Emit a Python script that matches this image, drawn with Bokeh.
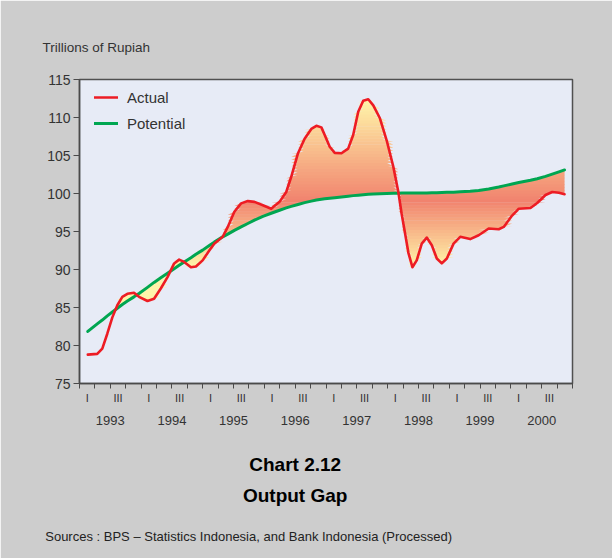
import numpy as np
from bokeh.plotting import figure
from bokeh.models import FixedTicker, LinearAxis, Title
from bokeh.embed import file_html
from bokeh.resources import INLINE

# ---------------- data ----------------
period = [1993.135, 1993.288, 1993.370, 1993.451, 1993.533, 1993.614, 1993.695, 1993.777,
          1993.884, 1993.966, 1994.103, 1994.210, 1994.319, 1994.428, 1994.536, 1994.617,
          1994.699, 1994.808, 1994.889, 1994.998, 1995.106, 1995.187, 1995.324, 1995.406,
          1995.513, 1995.622, 1995.731, 1995.839, 1995.976, 1996.111, 1996.246, 1996.355,
          1996.436, 1996.546, 1996.653, 1996.762, 1996.844, 1996.925, 1996.979, 1997.060,
          1997.142, 1997.251, 1997.360, 1997.441, 1997.523, 1997.604, 1997.686, 1997.767,
          1997.875, 1997.984, 1998.093, 1998.174, 1998.228, 1998.282, 1998.337, 1998.402,
          1998.472, 1998.554, 1998.635, 1998.717, 1998.798, 1998.879, 1998.961, 1999.070,
          1999.178, 1999.340, 1999.477, 1999.640, 1999.803, 1999.884, 2000.020, 2000.129,
          2000.318, 2000.427, 2000.562, 2000.671, 2000.780, 2000.871]

actual = [78.8, 78.9, 79.6, 81.55, 83.7, 85.3, 86.4, 86.8,
          86.95, 86.4, 85.85, 86.15, 87.5, 89.0, 90.8, 91.3,
          91.0, 90.3, 90.4, 91.2, 92.5, 93.4, 94.3, 95.6,
          97.6, 98.7, 99.0, 98.9, 98.45, 98.0, 98.9, 100.2,
          102.2, 105.3, 107.2, 108.5, 108.9, 108.7, 107.7, 106.15,
          105.35, 105.3, 105.9, 107.7, 110.75, 112.2, 112.4, 111.6,
          109.9, 107.0, 103.5, 100.2, 97.3, 94.8, 92.2, 90.3,
          91.2, 93.4, 94.2, 93.2, 91.45, 90.8, 91.45, 93.4,
          94.3, 94.0, 94.5, 95.4, 95.3, 95.6, 97.1, 98.0,
          98.1, 98.75, 99.8, 100.2, 100.1, 99.9]

potential = [81.85, 82.85, 83.35, 83.9, 84.4, 84.9, 85.4, 85.85,
             86.4, 86.85, 87.65, 88.3, 88.9, 89.5, 90.1, 90.55,
             91.0, 91.55, 92.0, 92.55, 93.15, 93.6, 94.3, 94.65,
             95.15, 95.6, 96.05, 96.5, 97.0, 97.4, 97.8, 98.1,
             98.3, 98.55, 98.8, 99.0, 99.15, 99.25, 99.3, 99.38,
             99.45, 99.55, 99.65, 99.72, 99.78, 99.84, 99.9, 99.94,
             99.98, 100.0, 100.02, 100.04, 100.05, 100.05, 100.05, 100.06,
             100.06, 100.07, 100.08, 100.1, 100.1, 100.12, 100.15, 100.18,
             100.22, 100.3, 100.4, 100.6, 100.85, 101.0, 101.25, 101.45,
             101.75, 101.95, 102.25, 102.55, 102.85, 103.1]

years = [1993, 1994, 1995, 1996, 1997, 1998, 1999, 2000]
quarter_names = ["I", "III"]
y_ticks = [75, 80, 85, 90, 95, 100, 105, 110, 115]

FONT = "Liberation Sans"
PAGE_BG = "#cdcdcd"
PLOT_BG = "#e7ebf6"
RED = "#ed1c24"
GREEN = "#00a651"
TXT = "#333333"

p = figure(width=612, height=558, output_backend="svg", toolbar_location=None,
           x_range=(1993, 2001), y_range=(75, 115),
           min_border_left=79, min_border_right=40, min_border_top=79, min_border_bottom=175)
p.background_fill_color = PLOT_BG
p.border_fill_color = PAGE_BG
p.outline_line_color = "#505050"
p.outline_line_width = 1.5
p.grid.visible = False

# ---------- gradient-like fill between actual and potential ----------
t = np.array(period, dtype=float)
a = np.array(actual, dtype=float)
pt = np.array(potential, dtype=float)
d = a - pt
xs, A, P, cross_idx = [t[0]], [a[0]], [pt[0]], []
for i in range(1, len(t)):
    if d[i - 1] * d[i] < 0:
        f = d[i - 1] / (d[i - 1] - d[i])
        xc = t[i - 1] + f * (t[i] - t[i - 1])
        vc = a[i - 1] + f * (a[i] - a[i - 1])
        cross_idx.append(len(xs))
        xs.append(xc); A.append(vc); P.append(vc)
    xs.append(t[i]); A.append(a[i]); P.append(pt[i])
start = cross_idx[0]
xs = np.array(xs[start:]); A = np.array(A[start:]); P = np.array(P[start:])
lo = np.minimum(A, P)
hi = np.maximum(A, P)

salmon = (241, 131, 110)
yellow = (255, 243, 168)


def grad(v):
    if v >= 99:
        f = min((v - 99) / 13.0, 1.0)
    else:
        f = min((99 - v) / 8.5, 1.0)
    return "#%02x%02x%02x" % tuple(int(round(s + (y - s) * f)) for s, y in zip(salmon, yellow))


step = 0.4
edges = np.arange(84.0, 113.2, step)
for b0 in edges:
    b1 = b0 + step
    y1 = np.clip(lo, b0, b1 + 0.06)
    y2 = np.clip(hi, b0, b1 + 0.06)
    if np.all(y2 - y1 <= 1e-9):
        continue
    p.varea(x=xs, y1=y1, y2=y2, fill_color=grad(b0 + step / 2), fill_alpha=1.0)

# ---------------- lines ----------------
p.line(period, potential, line_color=GREEN, line_width=3, legend_label="Potential",
       line_join="round", line_cap="round")
p.line(period, actual, line_color=RED, line_width=2.6, legend_label="Actual",
       line_join="round", line_cap="round")

leg = p.legend[0]
leg.items = list(reversed(leg.items))
leg.location = (15, 250)
leg.background_fill_alpha = 0
leg.border_line_alpha = 0
leg.padding = 0
leg.margin = 0
leg.spacing = 6
leg.glyph_width = 24
leg.glyph_height = 20
leg.label_height = 20
leg.label_standoff = 9
leg.label_text_font = FONT
leg.label_text_font_size = "15px"
leg.label_text_color = TXT

# ---------------- y axis ----------------
p.yaxis.ticker = FixedTicker(ticks=y_ticks)
p.yaxis.major_label_text_font = FONT
p.yaxis.major_label_text_font_size = "14px"
p.yaxis.major_label_text_color = TXT
p.yaxis.major_tick_out = 6
p.yaxis.major_tick_in = 0
p.yaxis.minor_tick_out = 0
p.yaxis.minor_tick_in = 0
p.yaxis.major_label_standoff = 3
p.yaxis.axis_line_color = "#4a4a4a"
p.yaxis.axis_line_width = 1.5
p.yaxis.major_tick_line_color = "#4a4a4a"

# ---------------- x axis: quarter ticks + I / III labels ----------------
quarter_edges = [years[0] + q * 0.25 for q in range(len(years) * 4 + 1)]
q_pos, q_over = [], {}
for yr in years:
    for k, qn in enumerate(quarter_names):
        pos = yr + 0.125 + 0.5 * k
        q_pos.append(pos)
        q_over[pos] = qn
xa = p.xaxis[0]
xa.ticker = FixedTicker(ticks=q_pos, minor_ticks=quarter_edges)
xa.major_label_overrides = q_over
xa.major_label_text_font = FONT
xa.major_label_text_font_size = "11px"
xa.major_label_text_color = TXT
xa.major_label_standoff = 3
xa.major_tick_out = 0
xa.major_tick_in = 0
xa.minor_tick_out = 5
xa.minor_tick_in = 0
xa.axis_line_color = "#4a4a4a"
xa.axis_line_width = 1.5
xa.minor_tick_line_color = "#4a4a4a"
xa.major_tick_line_color = None


def text_row(positions, texts, standoff, size, style="normal", color=TXT):
    """A bare axis used only to place a row of centred texts below the chart."""
    ax = LinearAxis(ticker=FixedTicker(ticks=positions),
                    major_label_overrides={ps: tx for ps, tx in zip(positions, texts)})
    ax.axis_line_color = None
    ax.major_tick_line_color = None
    ax.minor_tick_line_color = None
    ax.major_tick_out = 0
    ax.major_tick_in = 0
    ax.minor_tick_out = 0
    ax.minor_tick_in = 0
    ax.major_label_standoff = standoff
    ax.major_label_text_font = FONT
    ax.major_label_text_font_size = size
    ax.major_label_text_font_style = style
    ax.major_label_text_color = color
    p.add_layout(ax, "below")
    return ax


# year row
text_row([yr + 0.5 for yr in years], [str(yr) for yr in years], 9, "13px")
# chart number and title, centred a little left of the plot centre
text_row([1996.5], ["Chart 2.12"], 26, "19px", "bold", "#000000")
text_row([1996.5], ["Output Gap"], 7, "19px", "bold", "#000000")
# source note
text_row([1995.745], ["Sources : BPS \u2013 Statistics Indonesia, and Bank Indonesia (Processed)"],
         20, "13px", "normal", "#222222")

# unit label above the plot
p.add_layout(Title(text="Trillions of Rupiah", align="left", offset=-37, standoff=49,
                   text_font=FONT, text_font_size="13.5px", text_font_style="normal",
                   text_color=TXT), "above")

html = file_html(p, INLINE)
html = html.replace("<body>", '<body style="background-color:%s;">' % PAGE_BG, 1)
open("out.html", "w").write(html)
